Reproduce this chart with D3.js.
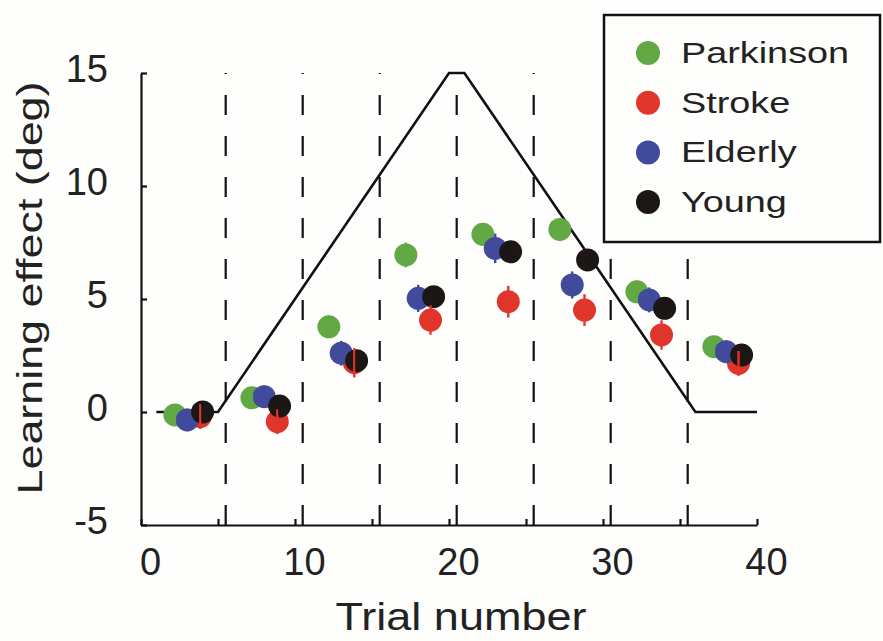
<!DOCTYPE html>
<html>
<head>
<meta charset="utf-8">
<script src="https://cdn.jsdelivr.net/npm/d3@7/dist/d3.min.js"></script>
<style>
    body { margin: 0; background: #fefefc; }
    svg { display: block; font-family: 'Liberation Sans', Arial, sans-serif; }
</style>
</head>
<body>
<div id="chart"></div>
<script>
// trial positions of each group's marker within the 8 blocks
const trialsParkinson = [2.2, 7.2, 12.2, 17.2, 22.2, 27.2, 32.2, 37.2];
const trialsStroke = [3.85, 8.85, 13.85, 18.8, 23.85, 28.8, 33.8, 38.8];
const trialsElderly = [3.0, 8.0, 13.0, 18.0, 23.0, 28.0, 33.0, 38.0];
const trialsYoung = [4.0, 9.0, 14.0, 19.0, 24.0, 29.0, 34.0, 39.0];

// learning effect (deg) and error
const parkinson = [-0.13, 0.63, 3.77, 6.95, 7.86, 8.08, 5.32, 2.89];
const stroke = [-0.2, -0.43, 2.18, 4.07, 4.88, 4.51, 3.41, 2.15];
const elderly = [-0.35, 0.68, 2.6, 5.03, 7.24, 5.62, 4.96, 2.67];
const young = [0.0, 0.26, 2.27, 5.1, 7.09, 6.73, 4.59, 2.52];

const errParkinson = [0.45, 0.45, 0.5, 0.55, 0.5, 0.5, 0.5, 0.45];
const errStroke = [0.55, 0.55, 0.65, 0.65, 0.7, 0.7, 0.65, 0.55];
const errElderly = [0.5, 0.5, 0.55, 0.6, 0.65, 0.6, 0.55, 0.5];
const errYoung = [0.4, 0.4, 0.45, 0.45, 0.45, 0.45, 0.45, 0.4];

// perturbation schedule (black line)
const scheduleTrial = [1, 5, 20, 21, 36, 40];
const scheduleDeg = [0, 0, 15, 15, 0, 0];

// block boundaries (dashed lines)
const boundaries = [5.5, 10.5, 15.5, 20.5, 25.5, 30.5, 35.5];

const xTicks = [0, 5, 10, 15, 20, 25, 30, 35, 40];
const yTicks = [-5, 0, 5, 10, 15];

const groupNames = ['Parkinson', 'Stroke', 'Elderly', 'Young'];
const groupColors = ['#62a844', '#e0352b', '#424a9c', '#1c1616'];

const series = [
    { name: 'Parkinson', x: trialsParkinson, y: parkinson, err: errParkinson },
    { name: 'Stroke', x: trialsStroke, y: stroke, err: errStroke },
    { name: 'Elderly', x: trialsElderly, y: elderly, err: errElderly },
    { name: 'Young', x: trialsYoung, y: young, err: errYoung }
];

const width = 883, height = 641;
const margin = { left: 141, right: 126, top: 73, bottom: 116 };

const svg = d3.select('#chart').append('svg')
    .attr('width', width)
    .attr('height', height);

svg.append('rect')
    .attr('width', width)
    .attr('height', height)
    .attr('fill', '#fefefc');

const xScale = d3.scaleLinear()
    .domain([0, 40])
    .range([margin.left, width - margin.right]);

const yScale = d3.scaleLinear()
    .domain([-5, 15])
    .range([height - margin.bottom, margin.top]);

const color = d3.scaleOrdinal().domain(groupNames).range(groupColors);

// dashed block boundaries, dashes start from the x-axis
svg.append('g')
    .selectAll('line')
    .data(boundaries)
    .join('line')
    .attr('x1', d => xScale(d))
    .attr('x2', d => xScale(d))
    .attr('y1', yScale(-5))
    .attr('y2', yScale(15))
    .attr('stroke', '#111')
    .attr('stroke-width', 2.2)
    .attr('stroke-dasharray', '20,21');

// schedule line
const schedule = scheduleTrial.map((t, i) => [t, scheduleDeg[i]]);
svg.append('path')
    .datum(schedule)
    .attr('fill', 'none')
    .attr('stroke', '#111')
    .attr('stroke-width', 2.6)
    .attr('d', d3.line().x(d => xScale(d[0])).y(d => yScale(d[1])));

// axes
const xAxis = d3.axisBottom(xScale)
    .tickValues(xTicks)
    .tickSizeInner(-6)
    .tickSizeOuter(0)
    .tickPadding(23)
    .tickFormat(d => d % 10 === 0 ? String(d) : '');

const xAxisG = svg.append('g')
    .attr('transform', `translate(0,${yScale(-5)})`)
    .call(xAxis);

xAxisG.selectAll('text')
    .attr('dx', 9)
    .style('font-size', '38px')
    .attr('fill', '#222');

const yAxis = d3.axisLeft(yScale)
    .tickValues(yTicks)
    .tickSizeInner(-6)
    .tickSizeOuter(0)
    .tickPadding(33)
    .tickFormat(d => String(d));

const yAxisG = svg.append('g')
    .attr('transform', `translate(${xScale(0)},0)`)
    .call(yAxis);

yAxisG.selectAll('text')
    .attr('dy', '0.22em')
    .style('font-size', '38px')
    .attr('fill', '#222');

svg.selectAll('.domain, .tick line')
    .attr('stroke', '#111')
    .attr('stroke-width', 2.2);

// markers
const flat = series.flatMap(s => s.x.map((x, i) => ({ name: s.name, x: x, y: s.y[i], err: s.err[i] })));

svg.append('g')
    .selectAll('circle')
    .data(flat)
    .join('circle')
    .attr('cx', d => xScale(d.x))
    .attr('cy', d => yScale(d.y))
    .attr('r', 11.5)
    .attr('fill', d => color(d.name));

// error bars on top
svg.append('g')
    .selectAll('line')
    .data(flat)
    .join('line')
    .attr('x1', d => xScale(d.x))
    .attr('x2', d => xScale(d.x))
    .attr('y1', d => yScale(d.y - d.err))
    .attr('y2', d => yScale(d.y + d.err))
    .attr('stroke', d => color(d.name))
    .attr('stroke-width', 2.4);

// axis labels
svg.append('text')
    .attr('x', 461)
    .attr('y', 630)
    .attr('text-anchor', 'middle')
    .attr('textLength', 251)
    .attr('lengthAdjust', 'spacingAndGlyphs')
    .style('font-size', '38px')
    .attr('fill', '#222')
    .text('Trial number');

svg.append('text')
    .attr('transform', 'translate(42,288) rotate(-90)')
    .attr('text-anchor', 'middle')
    .attr('textLength', 413)
    .attr('lengthAdjust', 'spacingAndGlyphs')
    .style('font-size', '35px')
    .attr('fill', '#222')
    .text('Learning effect (deg)');

// legend
const legend = svg.append('g');

legend.append('rect')
    .attr('x', 604)
    .attr('y', 15)
    .attr('width', 276)
    .attr('height', 227)
    .attr('fill', '#fefefc')
    .attr('stroke', '#111')
    .attr('stroke-width', 2.5);

const legendItems = legend.selectAll('.legend-item')
    .data(groupNames)
    .join('g')
    .attr('class', 'legend-item')
    .attr('transform', (d, i) => `translate(648,${53 + i * 49.7})`);

legendItems.append('circle')
    .attr('r', 12)
    .attr('fill', d => color(d));

legendItems.append('text')
    .attr('x', 33)
    .attr('y', 10)
    .style('font-size', '30px')
    .attr('fill', '#222')
    .text(d => d)
    .attr('textLength', function () { return this.getComputedTextLength() * 1.26; })
    .attr('lengthAdjust', 'spacingAndGlyphs');
</script>
</body>
</html>
